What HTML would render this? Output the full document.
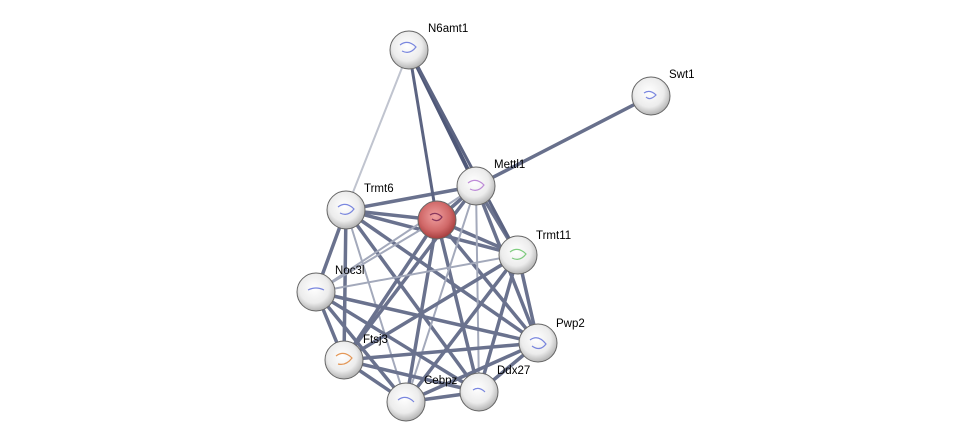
<!DOCTYPE html>
<html><head><meta charset="utf-8"><style>
body{margin:0;background:#fff;}
svg{display:block}
text{font-family:"Liberation Sans",sans-serif;font-size:11.5px;fill:#000}
</style></head><body>
<svg width="975" height="446" viewBox="0 0 975 446" xmlns="http://www.w3.org/2000/svg">
<defs>
<radialGradient id="g" cx="0.45" cy="0.4" r="0.65">
<stop offset="0" stop-color="#ffffff"/><stop offset="0.6" stop-color="#ececec"/><stop offset="0.9" stop-color="#b8b8b8"/><stop offset="1" stop-color="#8a8a8a"/>
</radialGradient>
<radialGradient id="r" cx="0.45" cy="0.4" r="0.65">
<stop offset="0" stop-color="#f0a0a0"/><stop offset="0.6" stop-color="#d06868"/><stop offset="0.9" stop-color="#a84040"/><stop offset="1" stop-color="#7a2a2a"/>
</radialGradient>
</defs>
<g stroke-linecap="round" fill="none">
<line x1="409" y1="50" x2="346" y2="210" stroke="#c0c4cf" stroke-width="2"/>
<line x1="409" y1="50" x2="476" y2="186" stroke="#4f5878" stroke-width="4"/>
<line x1="409" y1="50" x2="437" y2="220" stroke="#5c6482" stroke-width="3"/>
<line x1="409" y1="50" x2="518" y2="255" stroke="#5c6482" stroke-width="3"/>
<line x1="651" y1="96" x2="476" y2="186" stroke="#68708c" stroke-width="3.5"/>
</g>
<g stroke="#5a6382" stroke-width="3.5" stroke-linecap="round" fill="none" opacity="0.9">
<line x1="346" y1="210" x2="476" y2="186"/>
<line x1="346" y1="210" x2="437" y2="220"/>
<line x1="346" y1="210" x2="518" y2="255"/>
<line x1="346" y1="210" x2="316" y2="292"/>
<line x1="346" y1="210" x2="344" y2="360"/>
<line x1="346" y1="210" x2="538" y2="343"/>
<line x1="346" y1="210" x2="406" y2="402" stroke="#9aa0b4" stroke-width="2"/>
<line x1="346" y1="210" x2="479" y2="392"/>
<line x1="437" y1="220" x2="476" y2="186"/>
<line x1="437" y1="220" x2="518" y2="255"/>
<line x1="437" y1="220" x2="316" y2="292" stroke="#9aa0b4" stroke-width="2"/>
<line x1="437" y1="220" x2="344" y2="360"/>
<line x1="437" y1="220" x2="538" y2="343"/>
<line x1="437" y1="220" x2="406" y2="402"/>
<line x1="437" y1="220" x2="479" y2="392"/>
<line x1="476" y1="186" x2="518" y2="255"/>
<line x1="476" y1="186" x2="316" y2="292" stroke="#9aa0b4" stroke-width="2"/>
<line x1="476" y1="186" x2="344" y2="360"/>
<line x1="476" y1="186" x2="538" y2="343"/>
<line x1="476" y1="186" x2="406" y2="402" stroke="#9aa0b4" stroke-width="2"/>
<line x1="476" y1="186" x2="479" y2="392" stroke="#9aa0b4" stroke-width="2"/>
<line x1="518" y1="255" x2="316" y2="292" stroke="#9aa0b4" stroke-width="2"/>
<line x1="518" y1="255" x2="344" y2="360"/>
<line x1="518" y1="255" x2="538" y2="343"/>
<line x1="518" y1="255" x2="406" y2="402"/>
<line x1="518" y1="255" x2="479" y2="392"/>
<line x1="316" y1="292" x2="344" y2="360"/>
<line x1="316" y1="292" x2="538" y2="343"/>
<line x1="316" y1="292" x2="406" y2="402"/>
<line x1="316" y1="292" x2="479" y2="392"/>
<line x1="344" y1="360" x2="538" y2="343"/>
<line x1="344" y1="360" x2="406" y2="402"/>
<line x1="344" y1="360" x2="479" y2="392"/>
<line x1="538" y1="343" x2="406" y2="402"/>
<line x1="538" y1="343" x2="479" y2="392"/>
<line x1="406" y1="402" x2="479" y2="392"/>
</g>
<g stroke="#666" stroke-width="1">
<circle cx="409" cy="50" r="19" fill="url(#g)"/>
<circle cx="651" cy="96" r="19" fill="url(#g)"/>
<circle cx="476" cy="186" r="19" fill="url(#g)"/>
<circle cx="346" cy="210" r="19" fill="url(#g)"/>
<circle cx="518" cy="255" r="19" fill="url(#g)"/>
<circle cx="316" cy="292" r="19" fill="url(#g)"/>
<circle cx="538" cy="343" r="19" fill="url(#g)"/>
<circle cx="344" cy="360" r="19" fill="url(#g)"/>
<circle cx="479" cy="392" r="19" fill="url(#g)"/>
<circle cx="406" cy="402" r="19" fill="url(#g)"/>
<circle cx="437" cy="220" r="19" fill="url(#r)"/>
</g>
<g fill="none" stroke-width="1.2" opacity="0.8">
<path d="M400 45 q8 -6 16 2 q-6 8 -14 4" stroke="#5a6ad8"/>
<path d="M644 93 q6 -4 12 2 q-6 6 -10 2" stroke="#5a6ad8"/>
<path d="M468 183 q8 -6 16 2 q-6 8 -14 4" stroke="#b070d0"/>
<path d="M338 207 q8 -6 16 2 q-6 8 -14 4" stroke="#5a6ad8"/>
<path d="M510 252 q8 -6 16 2 q-6 8 -14 4" stroke="#60c060"/>
<path d="M308 290 q8 -4 16 0" stroke="#5a6ad8"/>
<path d="M530 340 q8 -6 16 4 q-6 8 -14 2" stroke="#5a6ad8"/>
<path d="M336 356 q8 -6 16 2 q-6 8 -14 6" stroke="#e08030"/>
<path d="M473 390 q6 -4 12 2" stroke="#5a6ad8"/>
<path d="M398 400 q8 -6 16 2" stroke="#5a6ad8"/>
<path d="M430 215 q6 -4 12 2 q-4 6 -10 2" stroke="#702050"/>
</g>
<text x="428" y="32">N6amt1</text>
<text x="669" y="78">Swt1</text>
<text x="494" y="168">Mettl1</text>
<text x="364" y="192">Trmt6</text>
<text x="536" y="239">Trmt11</text>
<text x="335" y="274">Noc3l</text>
<text x="556" y="327">Pwp2</text>
<text x="363" y="343">Ftsj3</text>
<text x="497" y="374">Ddx27</text>
<text x="424" y="384">Cebpz</text>
</svg>
</body></html>
